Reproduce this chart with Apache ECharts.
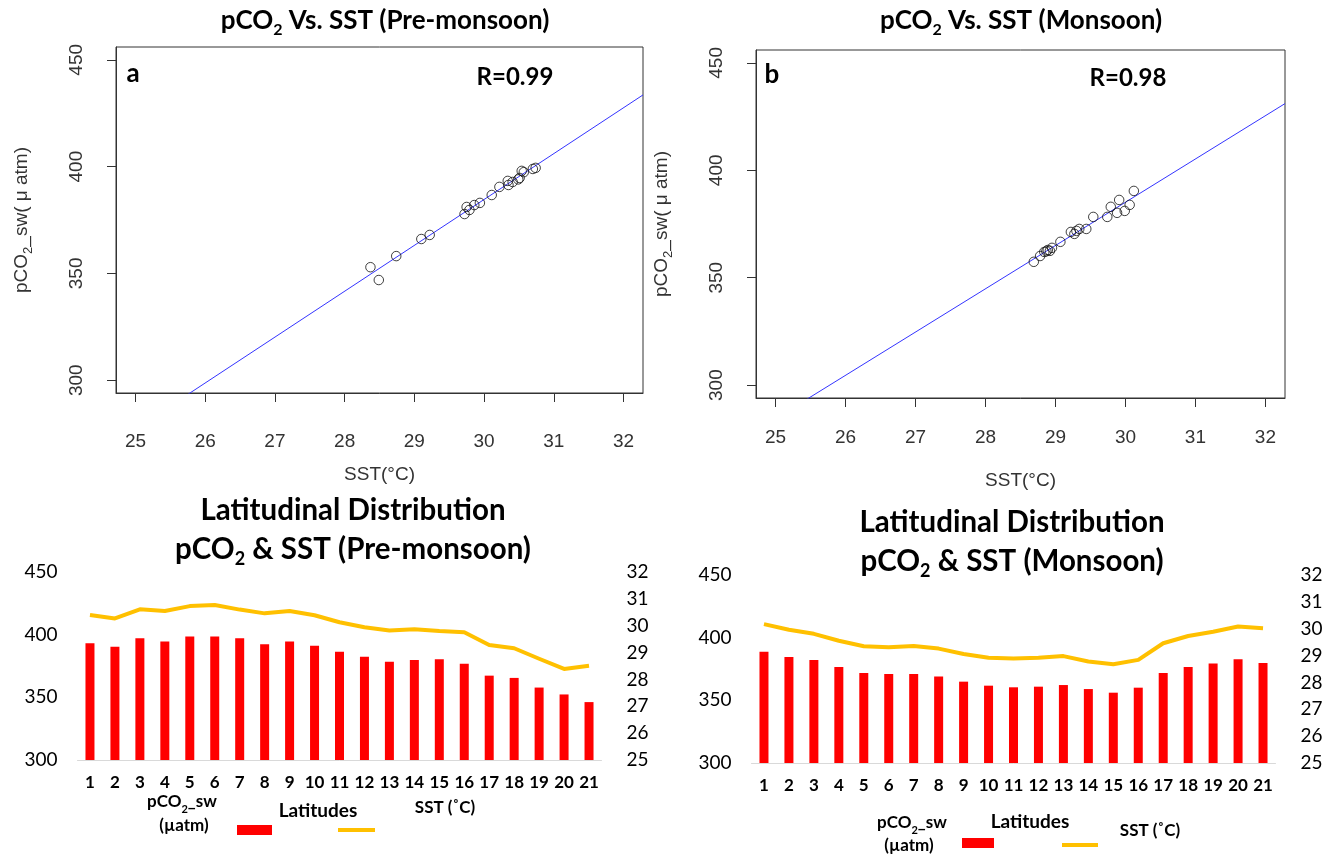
<!DOCTYPE html>
<html>
<head>
<meta charset="utf-8">
<script src="https://cdn.jsdelivr.net/npm/echarts@6/dist/echarts.min.js"></script>
<style>
  html, body { margin: 0; padding: 0; background: #fff; }
  #chart { width: 1330px; height: 854px; }
</style>
</head>
<body>
<div id="chart"></div>
<script>
// ---- Station data -------------------------------------------------------
// Scatter panel a: pre-monsoon SST (°C) against surface-water pCO2 (µatm)
const preScatterSST  = [28.37, 28.49, 28.74, 29.10, 29.22, 29.72, 29.75, 29.79, 29.86, 29.94,
                        30.11, 30.22, 30.34, 30.35, 30.41, 30.49, 30.51, 30.54, 30.57, 30.70, 30.74];
const preScatterPco2 = [352.9, 346.9, 358.1, 366.1, 368.0, 377.8, 381.1, 379.7, 382.0, 383.0,
                        386.7, 390.5, 393.3, 391.4, 392.8, 394.0, 394.7, 398.0, 397.4, 398.9, 399.4];
// Scatter panel b: monsoon SST (°C) against surface-water pCO2 (µatm)
const monScatterSST  = [30.12, 29.91, 29.79, 30.06, 29.99, 29.88, 29.74, 29.54, 29.44, 29.34,
                        29.27, 29.22, 29.07, 28.95, 28.92, 28.89, 28.87, 28.84, 28.78, 28.69, 29.30];
const monScatterPco2 = [390.4, 386.2, 383.0, 383.9, 381.1, 380.2, 378.3, 378.3, 372.7, 372.7,
                        370.4, 371.3, 366.7, 363.9, 362.5, 362.9, 362.3, 362.0, 360.1, 357.4, 371.8];

// Latitudinal sections (21 stations)
const latitudes = ['1','2','3','4','5','6','7','8','9','10','11','12','13','14','15','16','17','18','19','20','21'];
const prePco2 = [393.2, 390.3, 397.2, 394.5, 398.5, 398.5, 397.2, 392.4, 394.5, 391.1, 386.3,
                 382.4, 378.4, 379.7, 380.3, 376.8, 367.3, 365.5, 357.8, 352.3, 346.2];
const preSST  = [30.40, 30.27, 30.61, 30.55, 30.73, 30.77, 30.60, 30.46, 30.55, 30.39, 30.13,
                 29.94, 29.82, 29.87, 29.80, 29.76, 29.28, 29.16, 28.77, 28.39, 28.51];
const monPco2 = [388.8, 384.6, 382.2, 376.6, 371.8, 371.0, 371.0, 369.1, 364.9, 361.7, 360.4,
                 360.9, 362.2, 359.0, 356.1, 360.1, 371.8, 376.6, 379.3, 382.7, 379.8];
const monSST  = [30.17, 29.96, 29.81, 29.55, 29.35, 29.31, 29.36, 29.26, 29.06, 28.92, 28.89,
                 28.92, 28.98, 28.78, 28.68, 28.84, 29.46, 29.73, 29.89, 30.08, 30.02];

// Tick labels
const sstTicks  = [25, 26, 27, 28, 29, 30, 31, 32];
const pco2Ticks = [300, 350, 400, 450];
const corrLabels = ['R=0.99', 'R=0.98'];
const panelLetters = ['a', 'b'];

// ---- Helpers ------------------------------------------------------------
// R-style plot limits: the tick range widened by 4 %
function padRange(ticks) {
  const lo = ticks[0], hi = ticks[ticks.length - 1], d = (hi - lo) * 0.04;
  return [lo - d, hi + d];
}
const sstLim  = padRange(sstTicks);
const pco2Lim = padRange(pco2Ticks);

// Least-squares fit, evaluated at both ends of the x range
function fitLine(xs, ys) {
  const n = xs.length;
  const mx = xs.reduce((a, b) => a + b, 0) / n;
  const my = ys.reduce((a, b) => a + b, 0) / n;
  let sxy = 0, sxx = 0;
  for (let i = 0; i < n; i++) { sxy += (xs[i] - mx) * (ys[i] - my); sxx += (xs[i] - mx) ** 2; }
  const b = sxy / sxx, a = my - b * mx;
  return sstLim.map(x => [x, a + b * x]);
}
const zip = (xs, ys) => xs.map((x, i) => [x, ys[i]]);

const SANS = 'Liberation Sans';
const CAL = 'Lato';

function rich(size, weight) {
  return {
    n: { fontSize: size, fontWeight: weight, fontFamily: CAL, color: '#000', lineHeight: size + 8, verticalAlign: 'middle' },
    s: { fontSize: Math.round(size * 0.62), fontWeight: weight, fontFamily: CAL, color: '#000', lineHeight: Math.round(size * 0.62), verticalAlign: 'bottom' }
  };
}
function titleText(x, y, text, size) {
  return { type: 'text', x: x, y: y, style: { text: text, rich: rich(size, 'bold'), align: 'center', verticalAlign: 'middle' } };
}
function plainText(x, y, text, size, weight) {
  return { type: 'text', x: x, y: y, style: { text: text, fontSize: size, fontWeight: weight, fontFamily: CAL, fill: '#000', align: 'center', verticalAlign: 'middle' } };
}

// R-style axes for the scatter panels
function rX(gi, labelMargin, titleGap) {
  return {
    type: 'value', gridIndex: gi, min: sstLim[0], max: sstLim[1],
    axisLine: { show: true, onZero: false, lineStyle: { color: '#333' } },
    axisTick: { show: true, length: 9, customValues: sstTicks, lineStyle: { color: '#333' } },
    axisLabel: { customValues: sstTicks, margin: labelMargin, fontSize: 19, color: '#333', fontFamily: SANS },
    splitLine: { show: false },
    name: 'SST(°C)', nameLocation: 'middle', nameGap: titleGap,
    nameTextStyle: { fontSize: 19, color: '#333', fontFamily: SANS }
  };
}
function rY(gi) {
  return {
    type: 'value', gridIndex: gi, min: pco2Lim[0], max: pco2Lim[1],
    axisLine: { show: true, onZero: false, lineStyle: { color: '#333' } },
    axisTick: { show: true, length: 9, customValues: pco2Ticks, lineStyle: { color: '#333' } },
    axisLabel: { customValues: pco2Ticks, rotate: 90, margin: 30, fontSize: 19, color: '#333', fontFamily: SANS },
    splitLine: { show: false },
    name: '{n|pCO}{s|2}{n|_sw( μ atm)}', nameLocation: 'middle', nameGap: 81, nameRotate: 90,
    nameTextStyle: {
      rich: {
        n: { fontSize: 19, color: '#333', fontFamily: SANS, lineHeight: 26, verticalAlign: 'middle' },
        s: { fontSize: 13, color: '#333', fontFamily: SANS, lineHeight: 13, verticalAlign: 'bottom' }
      }
    }
  };
}

// Excel-style axes for the latitudinal panels
function catX(gi) {
  return {
    type: 'category', gridIndex: gi, data: latitudes,
    axisLine: { lineStyle: { color: '#d9d9d9', width: 1 } },
    axisTick: { show: false },
    axisLabel: { margin: 14, fontSize: 17, fontWeight: 'bold', color: '#000', fontFamily: CAL, interval: 0 }
  };
}
function leftY(gi) {
  return {
    type: 'value', gridIndex: gi, min: 300, max: 450, interval: 50, position: 'left',
    axisLine: { show: false }, axisTick: { show: false }, splitLine: { show: false },
    axisLabel: { margin: 20, fontSize: 19, color: '#000', fontFamily: CAL }
  };
}
function rightY(gi) {
  return {
    type: 'value', gridIndex: gi, min: 25, max: 32, interval: 1, position: 'right',
    axisLine: { show: false }, axisTick: { show: false }, splitLine: { show: false },
    axisLabel: { margin: 25, fontSize: 19, color: '#000', fontFamily: CAL }
  };
}

const scatterStyle = { color: 'rgba(0,0,0,0)', borderColor: '#111', borderWidth: 1 };
const fitStyle = { color: '#3434ff', width: 1 };

const option = {
  backgroundColor: '#ffffff',
  animation: false,
  grid: [
    { left: 116, top: 47, width: 527, height: 346, show: true, borderColor: '#333', borderWidth: 1 },
    { left: 756, top: 50, width: 529, height: 348, show: true, borderColor: '#333', borderWidth: 1 },
    { left: 77.5, top: 572, width: 524, height: 188 },
    { left: 751.5, top: 575, width: 524, height: 188 }
  ],
  xAxis: [rX(0, 39, 72), rX(1, 30, 73), catX(2), catX(3)],
  yAxis: [rY(0), rY(1), leftY(2), rightY(2), leftY(3), rightY(3)],
  series: [
    { type: 'line', xAxisIndex: 0, yAxisIndex: 0, data: fitLine(preScatterSST, preScatterPco2),
      symbol: 'none', lineStyle: fitStyle, clip: true, z: 2 },
    { type: 'scatter', xAxisIndex: 0, yAxisIndex: 0, data: zip(preScatterSST, preScatterPco2),
      symbol: 'circle', symbolSize: 9.5, itemStyle: scatterStyle, z: 3 },
    { type: 'line', xAxisIndex: 1, yAxisIndex: 1, data: fitLine(monScatterSST, monScatterPco2),
      symbol: 'none', lineStyle: fitStyle, clip: true, z: 2 },
    { type: 'scatter', xAxisIndex: 1, yAxisIndex: 1, data: zip(monScatterSST, monScatterPco2),
      symbol: 'circle', symbolSize: 9.5, itemStyle: scatterStyle, z: 3 },

    { name: 'pCO2_sw (µatm)', type: 'bar', xAxisIndex: 2, yAxisIndex: 2, data: prePco2,
      barWidth: 9, itemStyle: { color: '#ff0000' } },
    { name: 'SST (˚C)', type: 'line', xAxisIndex: 2, yAxisIndex: 3, data: preSST,
      symbol: 'none', lineStyle: { color: '#ffc000', width: 4, join: 'round' } },
    { name: 'pCO2_sw (µatm)', type: 'bar', xAxisIndex: 3, yAxisIndex: 4, data: monPco2,
      barWidth: 9, itemStyle: { color: '#ff0000' } },
    { name: 'SST (˚C)', type: 'line', xAxisIndex: 3, yAxisIndex: 5, data: monSST,
      symbol: 'none', lineStyle: { color: '#ffc000', width: 4, join: 'round' } }
  ],
  graphic: [
    // panel titles
    titleText(385, 21, '{n|pCO}{s|2}{n| Vs. SST (Pre-monsoon)}', 26),
    titleText(1021, 21, '{n|pCO}{s|2}{n| Vs. SST (Monsoon)}', 26),
    titleText(353, 510, '{n|Latitudinal Distribution}', 29.5),
    titleText(353, 549, '{n|pCO}{s|2}{n| & SST (Pre-monsoon)}', 29.5),
    titleText(1012, 522, '{n|Latitudinal Distribution}', 29.5),
    titleText(1012, 561, '{n|pCO}{s|2}{n| & SST (Monsoon)}', 29.5),
    // panel letters and correlation coefficients
    plainText(133, 74, panelLetters[0], 26, 'bold'),
    plainText(515, 77, corrLabels[0], 24, 'bold'),
    plainText(772, 75, panelLetters[1], 26, 'bold'),
    plainText(1128, 78, corrLabels[1], 24, 'bold'),
    // legend, pre-monsoon
    titleText(182, 802, '{n|pCO}{s|2}{n|_sw}', 17),
    plainText(184, 826, '(µatm)', 17, 'bold'),
    { type: 'rect', shape: { x: 237, y: 825, width: 35, height: 10 }, style: { fill: '#ff0000' } },
    plainText(318, 811, 'Latitudes', 19, 'bold'),
    { type: 'line', shape: { x1: 338, y1: 830, x2: 375, y2: 830 }, style: { stroke: '#ffc000', lineWidth: 4 } },
    plainText(445, 808, 'SST (˚C)', 17, 'bold'),
    // legend, monsoon
    titleText(912, 823, '{n|pCO}{s|2}{n|_sw}', 17),
    plainText(909, 846, '(µatm)', 17, 'bold'),
    { type: 'rect', shape: { x: 962, y: 838, width: 32, height: 10 }, style: { fill: '#ff0000' } },
    plainText(1030, 822, 'Latitudes', 19, 'bold'),
    { type: 'line', shape: { x1: 1062, y1: 845, x2: 1098, y2: 845 }, style: { stroke: '#ffc000', lineWidth: 4 } },
    plainText(1150, 831, 'SST (˚C)', 17, 'bold')
  ]
};

const chart = echarts.init(document.getElementById('chart'), null, { renderer: 'canvas' });
chart.setOption(option);
</script>
</body>
</html>
